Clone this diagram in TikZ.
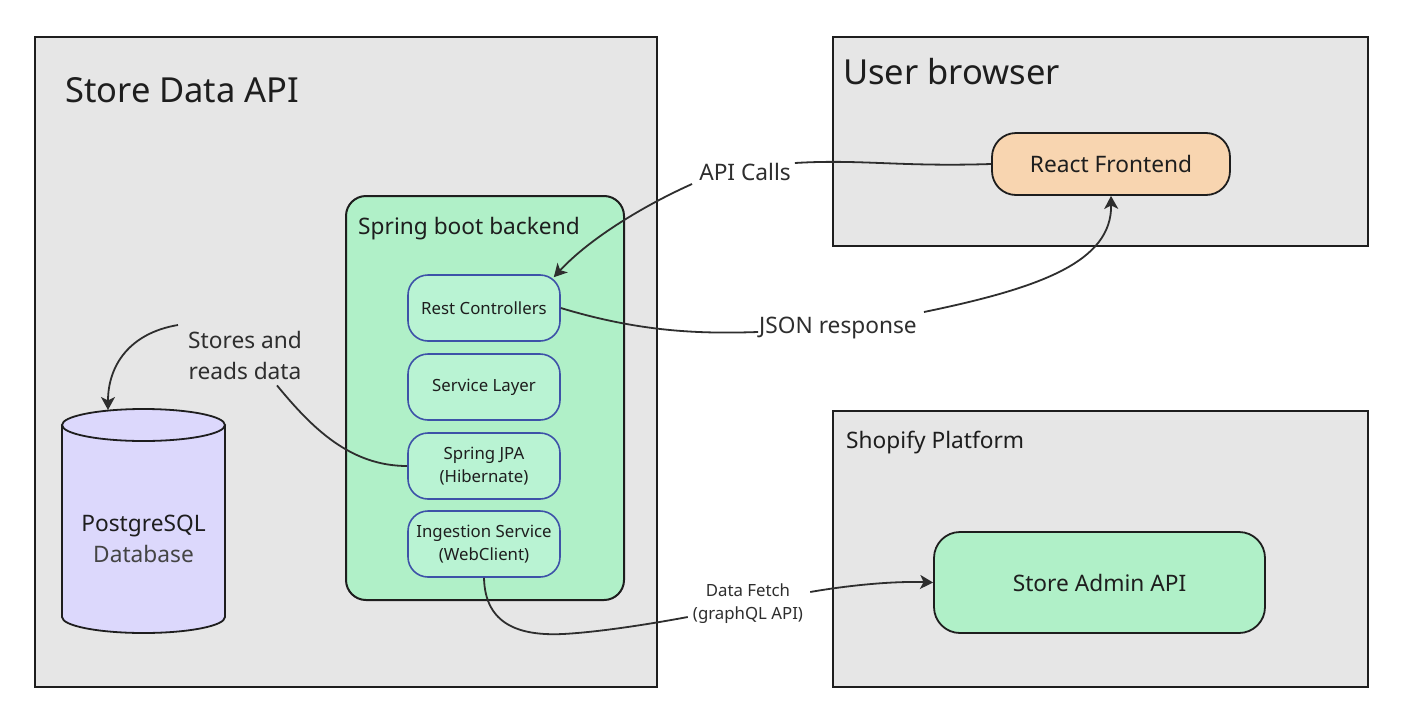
\documentclass[tikz,border=0pt]{standalone}
\usepackage{fontspec}
\setmainfont{Noto Sans}
\usetikzlibrary{arrows.meta}
\definecolor{boxgrey}{HTML}{E6E6E6}
\definecolor{ink}{HTML}{1E1E1E}
\definecolor{linec}{HTML}{2E2E2E}
\definecolor{springgreen}{HTML}{B0F0C8}
\definecolor{innergreen}{HTML}{B9F3D3}
\definecolor{layerblue}{HTML}{3D52A8}
\definecolor{peach}{HTML}{F8D5B0}
\definecolor{lavender}{HTML}{DCD8FC}
\definecolor{dbgrey}{HTML}{444444}
\newcommand\fTitle{\fontsize{34.5}{40}\selectfont}
\newcommand\fMid{\fontsize{22.7}{31}\selectfont}
\newcommand\fSmall{\fontsize{16.8}{23}\selectfont}
\tikzset{
  container/.style={draw=ink, line width=2pt, fill=boxgrey, inner sep=0pt, anchor=north west},
  layer/.style={draw=layerblue, line width=1.6pt, fill=innergreen, rounded corners=20pt,
    minimum width=152pt, minimum height=66pt, inner sep=0pt, align=center, font=\fSmall, text=ink},
  title/.style={anchor=base west, inner sep=0pt, text=ink},
  lbl/.style={inner sep=1pt, text=linec, align=center},
  conn/.style={draw=linec, line width=1.8pt},
  arr/.style={conn, -{Stealth[length=13pt,width=14pt,inset=3.5pt]}},
}
\begin{document}
\begin{tikzpicture}[x=1pt,y=-1pt]
\useasboundingbox (0,0) rectangle (1402,712);
\fill[white] (0,0) rectangle (1402,712);

% containers
\node[container, minimum width=622pt, minimum height=650pt] (sda) at (34,36) {};
\node[container, minimum width=535pt, minimum height=209pt] (ub) at (832,36) {};
\node[container, minimum width=535pt, minimum height=276pt] (shop) at (832,410) {};

\node[title, font=\fTitle] (sdat) at (65,102) {Store Data API};
\node[title, font=\fTitle] (ubt) at (843,84) {User browser};
\node[title, font=\fMid] (shopt) at (846,448) {Shopify Platform};

% spring boot
\node[draw=ink, line width=2pt, fill=springgreen, rounded corners=20pt, inner sep=0pt,
  minimum width=278pt, minimum height=404pt, anchor=north west] (sb) at (345,195) {};
\node[title, font=\fMid] (sbt) at (358,234) {Spring boot backend};

\node[layer] (rc) at (484,308) {Rest Controllers};
\node[layer] (sl) at (484,387) {Service Layer};
\node[layer] (jpa) at (484,466) {Spring JPA\\(Hibernate)};
\node[layer] (ing) at (484,544) {Ingestion Service\\(WebClient)};

% frontend and admin api
\node[draw=ink, line width=1.8pt, fill=peach, rounded corners=24pt, inner sep=0pt,
  minimum width=238pt, minimum height=62pt, font=\fMid, text=ink] (rf) at (1111,164) {React Frontend};
\node[draw=ink, line width=1.8pt, fill=springgreen, rounded corners=26pt, inner sep=0pt,
  minimum width=331pt, minimum height=101pt, font=\fMid, text=ink] (sa) at (1099.5,582.5) {Store Admin API};

% database cylinder
\fill[lavender] (62,425) -- (62,617) arc[start angle=180, end angle=360, x radius=81.5pt, y radius=16pt]
  -- (225,425) arc[start angle=0, end angle=180, x radius=81.5pt, y radius=16pt] -- cycle;
\draw[ink, line width=1.8pt] (62,425) -- (62,617) arc[start angle=180, end angle=360, x radius=81.5pt, y radius=16pt]
  -- (225,425);
\draw[ink, line width=1.8pt] (143.5,425) ellipse[x radius=81.5pt, y radius=16pt];
\node[inner sep=0pt, align=center, font=\fMid, text=ink] (db) at (143.5,539) {PostgreSQL\\\textcolor{dbgrey}{Database}};
\coordinate (dbtop) at (108,410);

% labels
\node[lbl, font=\fMid] (api) at (745,172) {API Calls};
\node[lbl, font=\fMid] (json) at (838,328) {JSON response};
\node[lbl, font=\fMid] (stores) at (245,355) {Stores and\\reads data};
\node[lbl, font=\fSmall] (fetch) at (748,604) {Data Fetch\\(graphQL API)};

% connectors
\draw[conn] (rf.west) .. controls (900,167) and (860,159) .. ([shift={(3pt,9pt)}]api.east);
\draw[arr] ([shift={(-6pt,-12pt)}]api.west) .. controls (645,205) and (590,238) .. ([shift={(-7pt,-3pt)}]rc.north east);

\draw[conn] (rc.east) .. controls (640,332) and (700,334) .. ([yshift=-4pt]json.west);
\draw[arr] ([shift={(6pt,16pt)}]json.east) .. controls (1040,288) and (1112,262) .. (rf.south);

\draw[arr] ([shift={(-9pt,30pt)}]stores.west) .. controls (130,333) and (108,365) .. (dbtop);
\draw[conn] ([shift={(32pt,-5pt)}]stores.south) .. controls (312,428) and (350,466) .. (jpa.west);

\draw[conn] (ing.south) .. controls (485,625) and (520,636) .. (563,634)
  .. controls (600,632) and (650,624) .. ([shift={(-4pt,-13pt)}]fetch.west);
\draw[arr] ([shift={(6pt,12pt)}]fetch.east) .. controls (850,585) and (895,581) .. (sa.west);
\end{tikzpicture}
\end{document}
